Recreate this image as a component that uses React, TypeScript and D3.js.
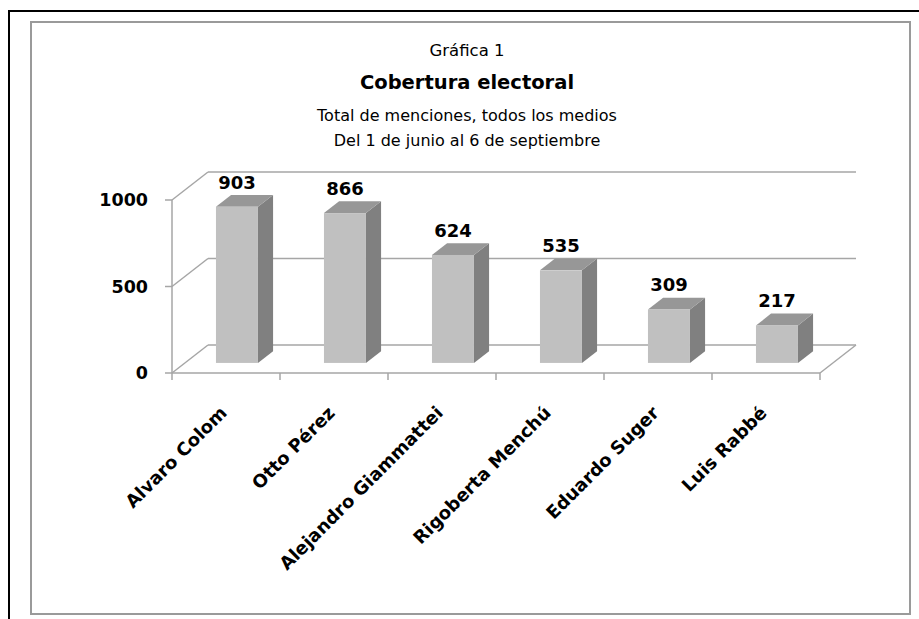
import React, { useEffect, useRef } from 'react';
import * as d3 from 'd3';

const candidates = ['Alvaro Colom', 'Otto Pérez', 'Alejandro Giammattei', 'Rigoberta Menchú', 'Eduardo Suger', 'Luis Rabbé'];
const menciones = [903, 866, 624, 535, 309, 217];
const yTicks = [0, 500, 1000];
const titleLines = ['Gráfica 1', 'Cobertura electoral', 'Total de menciones, todos los medios', 'Del 1 de junio al 6 de septiembre'];

const W = 919;
const H = 619;

export default function App() {
  const svgRef = useRef<SVGSVGElement>(null);

  useEffect(() => {
    if (!svgRef.current) return;
    const svg = d3.select(svgRef.current);
    svg.selectAll('*').remove();

    const font = '"DejaVu Sans", sans-serif';
    const gridColor = '#a6a6a6';

    // frame
    svg.append('rect').attr('width', W).attr('height', H).attr('fill', '#fff');
    svg.append('line').attr('x1', 8).attr('x2', W).attr('y1', 11).attr('y2', 11).attr('stroke', '#000').attr('stroke-width', 2);
    svg.append('line').attr('x1', 9).attr('x2', 9).attr('y1', 10).attr('y2', H).attr('stroke', '#000').attr('stroke-width', 2);
    svg.append('rect')
      .attr('x', 31).attr('y', 22).attr('width', 879).attr('height', 592)
      .attr('fill', '#fff').attr('stroke', '#9a9a9a').attr('stroke-width', 2);

    // titles
    const cx = 467;
    const titleY = [56, 89, 121, 146];
    const titleSize = [16.5, 19.5, 16, 16];
    titleLines.forEach((t, i) => {
      svg.append('text')
        .attr('x', cx).attr('y', titleY[i])
        .attr('text-anchor', 'middle')
        .attr('font-family', font)
        .attr('font-size', titleSize[i])
        .attr('font-weight', i === 1 ? 'bold' : 'normal')
        .attr('fill', '#000')
        .text(t);
    });

    // 3D geometry
    const x0 = 172, x1 = 820;
    const depth = { dx: 36, dy: -28 };
    const x = d3.scaleBand<string>().domain(candidates).range([x0, x1]).padding(0);
    const y = d3.scaleLinear().domain([0, 1000]).range([373, 200]);

    const g = svg.append('g');

    // side wall and back wall gridlines
    yTicks.forEach(v => {
      g.append('line')
        .attr('x1', x0).attr('y1', y(v)).attr('x2', x0 + depth.dx).attr('y2', y(v) + depth.dy)
        .attr('stroke', gridColor).attr('stroke-width', 1.5);
      g.append('line')
        .attr('x1', x0 + depth.dx).attr('y1', y(v) + depth.dy).attr('x2', x1 + depth.dx).attr('y2', y(v) + depth.dy)
        .attr('stroke', gridColor).attr('stroke-width', 1.5);
    });
    // floor front edge and right edge
    g.append('line').attr('x1', x0).attr('y1', y(0)).attr('x2', x1).attr('y2', y(0))
      .attr('stroke', gridColor).attr('stroke-width', 1.5);
    g.append('line').attr('x1', x1).attr('y1', y(0)).attr('x2', x1 + depth.dx).attr('y2', y(0) + depth.dy)
      .attr('stroke', gridColor).attr('stroke-width', 1.5);
    // y axis
    g.append('line').attr('x1', x0).attr('y1', y(1000)).attr('x2', x0).attr('y2', y(0))
      .attr('stroke', gridColor).attr('stroke-width', 1.5);
    yTicks.forEach(v => {
      g.append('line').attr('x1', x0 - 7).attr('x2', x0).attr('y1', y(v)).attr('y2', y(v))
        .attr('stroke', gridColor).attr('stroke-width', 1.5);
      g.append('text')
        .attr('x', x0 - 24).attr('y', y(v)).attr('dy', '0.36em')
        .attr('text-anchor', 'end')
        .attr('font-family', font).attr('font-size', 17.5).attr('font-weight', 'bold')
        .text(String(v));
    });
    // x ticks at band edges
    const edges = candidates.map(c => x(c)!).concat([x1]);
    edges.forEach(e => {
      g.append('line').attr('x1', e).attr('x2', e).attr('y1', y(0)).attr('y2', y(0) + 7)
        .attr('stroke', gridColor).attr('stroke-width', 1.5);
    });

    // bars
    const fFront = 0.36, fBack = 0.78;
    const barOffset = 31, barW = 42;
    const hScale = (v: number) => y(0) - y(v);
    candidates.forEach((c, i) => {
      const v = menciones[i];
      const bx = x(c)! + barOffset + depth.dx * fFront;
      const by = y(0) + depth.dy * fFront;
      const top = by - hScale(v);
      const ddx = depth.dx * (fBack - fFront);
      const ddy = depth.dy * (fBack - fFront);
      // side
      g.append('path')
        .attr('d', `M${bx + barW},${by} L${bx + barW + ddx},${by + ddy} L${bx + barW + ddx},${top + ddy} L${bx + barW},${top} Z`)
        .attr('fill', '#808080');
      // top
      g.append('path')
        .attr('d', `M${bx},${top} L${bx + ddx},${top + ddy} L${bx + barW + ddx},${top + ddy} L${bx + barW},${top} Z`)
        .attr('fill', '#979797');
      // front
      g.append('rect').attr('x', bx).attr('y', top).attr('width', barW).attr('height', hScale(v))
        .attr('fill', '#c0c0c0');
      // value label
      g.append('text')
        .attr('x', bx + barW / 2).attr('y', top - 18)
        .attr('text-anchor', 'middle')
        .attr('font-family', font).attr('font-size', 18).attr('font-weight', 'bold')
        .text(String(v));
    });

    // category labels
    candidates.forEach(c => {
      const px = x(c)! + x.bandwidth() / 2 + 2;
      const py = 414;
      g.append('text')
        .attr('transform', `translate(${px},${py}) rotate(-45)`)
        .attr('text-anchor', 'end')
        .attr('font-family', font).attr('font-size', 18).attr('font-weight', 'bold')
        .text(c);
    });
  }, []);

  return (
    <svg ref={svgRef} width={W} height={H} viewBox={`0 0 ${W} ${H}`}
      style={{ position: 'absolute', left: 0, top: 0, display: 'block' }} />
  );
}
